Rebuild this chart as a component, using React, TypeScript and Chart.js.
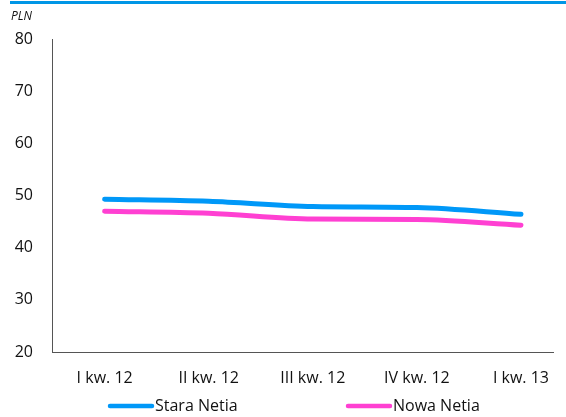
import React, { useEffect, useRef } from "react";
import { Chart, registerables } from "chart.js";

Chart.register(...registerables);

// Quarterly average revenue per user, PLN
const quarters = ["I kw. 12", "II kw. 12", "III kw. 12", "IV kw. 12", "I kw. 13"];
const staraNetia = [49.3, 48.9, 47.9, 47.7, 46.4];
const nowaNetia = [47.0, 46.6, 45.5, 45.4, 44.3];
const yTicks = [20, 30, 40, 50, 60, 70, 80];
const unitLabel = "PLN";

const BLUE = "#0098F8";
const PINK = "#FF40D2";
const FONT = "'Open Sans', 'DejaVu Sans', sans-serif";

// Header rule, unit caption and the line-style legend under the axis
const decorations = {
  id: "decorations",
  afterDraw(chart: Chart) {
    const { ctx } = chart;
    ctx.save();
    ctx.fillStyle = "#0096E6";
    ctx.fillRect(10, 1, chart.width - 10, 3);

    ctx.fillStyle = "#111";
    ctx.font = `italic 12px ${FONT}`;
    ctx.textAlign = "left";
    ctx.textBaseline = "middle";
    ctx.fillText(unitLabel, 11, 17);

    const starts = [108, 346];
    const y = 406;
    chart.data.datasets.forEach((ds: any, i: number) => {
      const x0 = starts[i];
      ctx.strokeStyle = ds.borderColor;
      ctx.lineWidth = 4.5;
      ctx.lineCap = "round";
      ctx.beginPath();
      ctx.moveTo(x0 + 2, y);
      ctx.lineTo(x0 + 44, y);
      ctx.stroke();
      ctx.fillStyle = "#111";
      ctx.font = `16px ${FONT}`;
      ctx.fillText(ds.label, x0 + 47, y);
    });
    ctx.restore();
  },
};

export default function App() {
  const canvasRef = useRef<HTMLCanvasElement>(null);

  useEffect(() => {
    const canvas = canvasRef.current;
    if (!canvas) return;
    const toPoints = (vals: number[]) => vals.map((v, i) => ({ x: i, y: v }));
    const chart = new Chart(canvas, {
      type: "line",
      data: {
        datasets: [
          {
            label: "Stara Netia",
            data: toPoints(staraNetia),
            borderColor: BLUE,
            borderWidth: 5,
            borderCapStyle: "round",
            pointRadius: 0,
            cubicInterpolationMode: "monotone",
          },
          {
            label: "Nowa Netia",
            data: toPoints(nowaNetia),
            borderColor: PINK,
            borderWidth: 5,
            borderCapStyle: "round",
            pointRadius: 0,
            cubicInterpolationMode: "monotone",
          },
        ],
      },
      options: {
        animation: false,
        responsive: false,
        maintainAspectRatio: false,
        layout: { padding: { top: 39, right: 0, bottom: 0, left: 0 } },
        plugins: {
          legend: { display: false },
          tooltip: { enabled: false },
        },
        scales: {
          x: {
            type: "linear",
            min: -0.506,
            max: 4.309,
            afterBuildTicks: (scale: any) => {
              scale.ticks = quarters.map((_, i) => ({ value: i }));
            },
            afterFit: (scale: any) => {
              scale.height = 65;
            },
            grid: { display: false, drawTicks: false },
            border: { display: true, color: "#555", width: 1 },
            ticks: {
              padding: 17,
              maxRotation: 0,
              autoSkip: false,
              color: "#111",
              font: { family: FONT, size: 16 },
              callback: (v: any) => quarters[Number(v)] ?? "",
            },
          },
          y: {
            min: yTicks[0],
            max: yTicks[yTicks.length - 1],
            afterBuildTicks: (scale: any) => {
              scale.ticks = yTicks.map((value) => ({ value }));
            },
            afterFit: (scale: any) => {
              scale.width = 52;
            },
            grid: { display: false, drawTicks: false },
            border: { display: true, color: "#555", width: 1 },
            ticks: {
              padding: 19,
              color: "#111",
              font: { family: FONT, size: 16 },
            },
          },
        },
      },
      plugins: [decorations],
    } as any);
    return () => chart.destroy();
  }, []);

  return (
    <div style={{ position: "fixed", left: 0, top: 0, width: 566, height: 417, background: "#fff" }}>
      <canvas ref={canvasRef} width={566} height={417} style={{ width: 566, height: 417 }} />
    </div>
  );
}
